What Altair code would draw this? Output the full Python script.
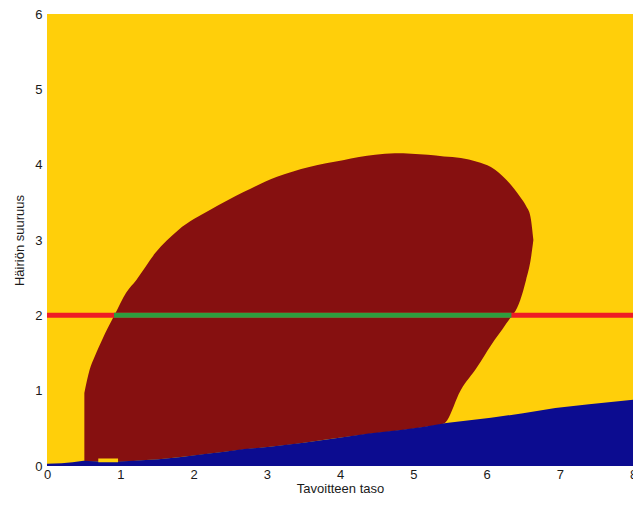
import altair as alt
import pandas as pd

# Axis ticks
x_ticks = [0, 1, 2, 3, 4, 5, 6, 7, 8]
y_ticks = [0, 1, 2, 3, 4, 5, 6]

# Dark-red region: x, lower and upper boundary
blob_x = [0.51, 0.58, 0.65, 0.75, 0.92, 1.08, 1.22, 1.48, 1.79, 2.23, 2.69, 3.14, 3.58,
          4.04, 4.48, 4.75, 5.20, 5.42, 5.65, 5.87, 6.06, 6.27, 6.46, 6.54, 6.60, 6.64]
blob_upper = [0.97, 1.27, 1.45, 1.67, 2.00, 2.30, 2.47, 2.83, 3.13, 3.40, 3.64, 3.84, 3.97,
              4.06, 4.13, 4.15, 4.13, 4.11, 4.09, 4.04, 3.97, 3.80, 3.57, 3.45, 3.31, 3.00]
blob_lower = [0.06, 0.06, 0.06, 0.06, 0.055, 0.06, 0.07, 0.085, 0.115, 0.165, 0.22, 0.265, 0.32,
              0.38, 0.435, 0.465, 0.525, 0.565, 1.01, 1.31, 1.60, 1.89, 2.20, 2.47, 2.72, 3.00]

# Blue region: upper boundary
blue_x = [0, 0.2, 0.35, 0.5, 0.7, 1.0, 1.52, 1.83, 2.15, 2.42, 2.69, 3.04, 3.5, 3.94,
          4.39, 4.85, 5.15, 5.45, 6.06, 6.5, 6.94, 7.4, 8.0]
blue_top = [0.03, 0.035, 0.05, 0.07, 0.06, 0.06, 0.09, 0.12, 0.16, 0.19, 0.225, 0.256, 0.31,
            0.37, 0.43, 0.48, 0.52, 0.57, 0.64, 0.70, 0.77, 0.82, 0.88]

# Small yellow patch inside the blue/red boundary
patch_x = [0.70, 0.97]
patch_y = [0.05, 0.10]

# Horizontal lines at disturbance level 2
red_line_x = [0, 8]
green_line_x = [0.915, 6.34]
line_level = 2

YELLOW = "#FFCF0A"
DARKRED = "#861010"
BLUE = "#0C0C90"
RED = "#EE1C25"
GREEN = "#2E9E3E"

xscale = alt.Scale(domain=[0, 8], nice=False, zero=False)
yscale = alt.Scale(domain=[0, 6], nice=False, zero=False)
xaxis = alt.Axis(values=x_ticks, title="Tavoitteen taso", labelFlush=False,
                 labelPadding=2, titlePadding=1, format="d")
yaxis = alt.Axis(values=y_ticks, title="Häiriön suuruus", labelFlush=False,
                 labelPadding=5, titlePadding=8, format="d")

bg_df = pd.DataFrame({"x": [0], "x2": [8], "y": [0], "y2": [6]})
blob_df = pd.DataFrame({"x": blob_x, "lo": blob_lower, "hi": blob_upper})
blue_df = pd.DataFrame({"x": blue_x, "top": blue_top})
patch_df = pd.DataFrame({"x": [patch_x[0]], "x2": [patch_x[1]], "y": [patch_y[0]], "y2": [patch_y[1]]})
red_df = pd.DataFrame({"x": [red_line_x[0]], "x2": [red_line_x[1]], "y": [line_level]})
green_df = pd.DataFrame({"x": [green_line_x[0]], "x2": [green_line_x[1]], "y": [line_level]})

bg = alt.Chart(bg_df).mark_rect(color=YELLOW).encode(
    x=alt.X("x:Q", scale=xscale, axis=xaxis),
    x2="x2:Q",
    y=alt.Y("y:Q", scale=yscale, axis=yaxis),
    y2="y2:Q",
)

blob = alt.Chart(blob_df).mark_area(color=DARKRED, interpolate="monotone").encode(
    x=alt.X("x:Q", scale=xscale, axis=xaxis),
    y=alt.Y("lo:Q", scale=yscale, axis=yaxis),
    y2="hi:Q",
)

blue = alt.Chart(blue_df).mark_area(color=BLUE, interpolate="linear").encode(
    x=alt.X("x:Q", scale=xscale, axis=xaxis),
    y=alt.Y("top:Q", scale=yscale, axis=yaxis),
)

patch = alt.Chart(patch_df).mark_rect(color=YELLOW).encode(
    x=alt.X("x:Q", scale=xscale, axis=xaxis),
    x2="x2:Q",
    y=alt.Y("y:Q", scale=yscale, axis=yaxis),
    y2="y2:Q",
)

red_line = alt.Chart(red_df).mark_rule(color=RED, strokeWidth=5).encode(
    x=alt.X("x:Q", scale=xscale, axis=xaxis),
    x2="x2:Q",
    y=alt.Y("y:Q", scale=yscale, axis=yaxis),
)

green_line = alt.Chart(green_df).mark_rule(color=GREEN, strokeWidth=5).encode(
    x=alt.X("x:Q", scale=xscale, axis=xaxis),
    x2="x2:Q",
    y=alt.Y("y:Q", scale=yscale, axis=yaxis),
)

chart = alt.layer(bg, blob, blue, patch, red_line, green_line).properties(
    width=586,
    height=452,
    autosize=alt.AutoSizeParams(type="none"),
    padding={"left": 39, "top": 6, "right": 0, "bottom": 30},
).configure_axis(
    labelFont="Liberation Sans",
    titleFont="Liberation Sans",
    labelFontSize=13,
    titleFontSize=13,
    titleFontWeight="normal",
    labelColor="#1a1a1a",
    titleColor="#1a1a1a",
    ticks=False,
    domain=False,
    grid=False,
).configure_view(stroke=None)

chart.save("out.html", embed_options={"renderer": "svg", "actions": False})
